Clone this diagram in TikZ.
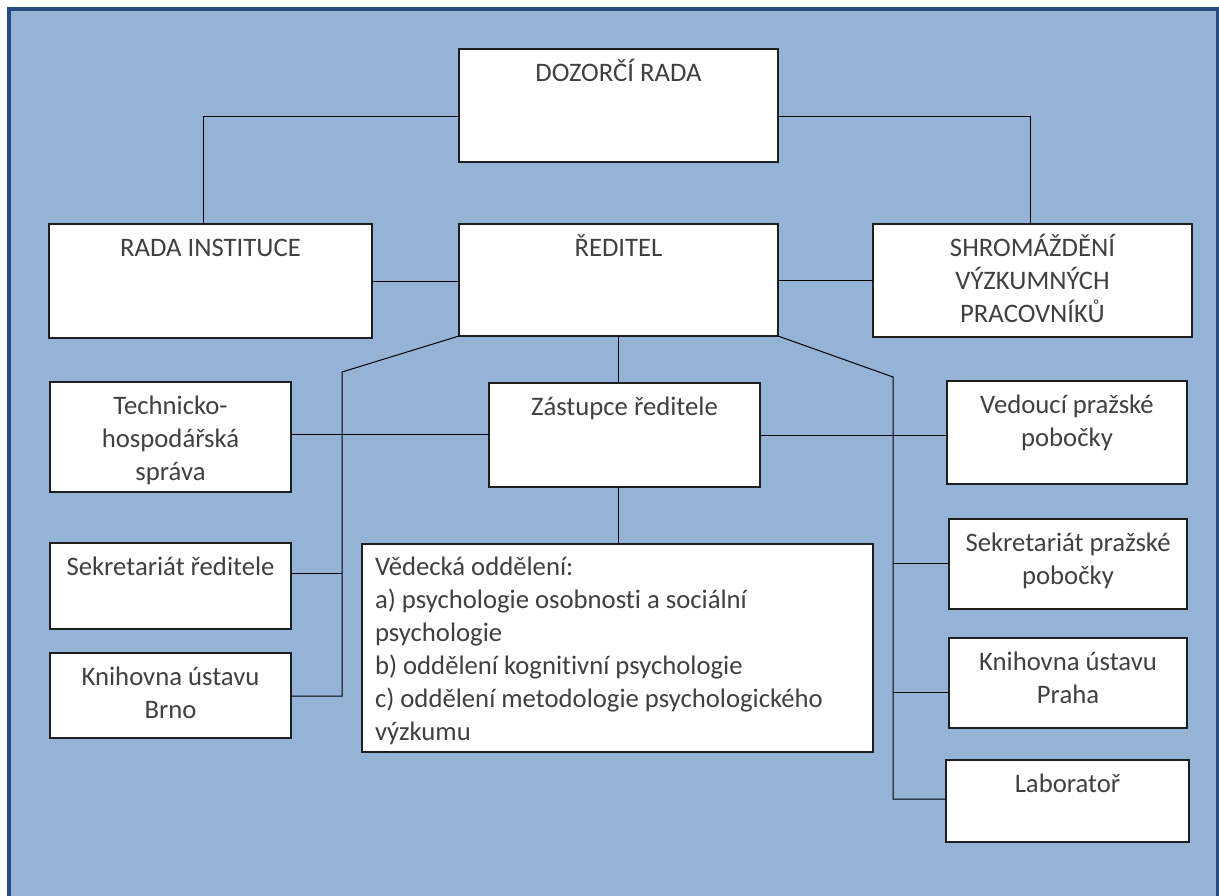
\documentclass[tikz,border=0pt]{standalone}
\usepackage{fontspec}
\setmainfont{Carlito}[Ligatures=NoCommon]
\usetikzlibrary{fit,calc}
\definecolor{bgblue}{HTML}{95B3D7}
\definecolor{frameblue}{HTML}{254C80}
\definecolor{txtgray}{HTML}{404040}
\definecolor{boxline}{HTML}{1E1E1E}
\tikzset{
  boxst/.style={draw=boxline, line width=1.3pt, fill=white, inner sep=0pt, outer sep=0pt},
  lbl/.style={inner sep=0pt, outer sep=0pt, text=txtgray, font=\fontsize{26.7}{33}\selectfont},
  conn/.style={draw=black, line width=1pt}
}
\newcommand\orgbox[5]{\node[boxst, fit={(#2,#3) (#4,#5)}] (#1) {};}
\newcommand\orgtext[3]{\node[lbl, anchor=base] (t#1) at ([yshift=-32pt]#1.north) {\parbox[t]{#2pt}{\centering #3}};}
\begin{document}
\begin{tikzpicture}[x=1pt,y=-1pt]
\useasboundingbox (0,0) rectangle (1219,895);
\fill[white] (0,0) rectangle (1219,895);
\begin{scope}
\clip (0,0) rectangle (1219,895);
\draw[frameblue, line width=4.5pt, fill=bgblue] (9.2,9.2) rectangle (1217.8,905);
\end{scope}

% boxes
\orgbox{dr}{459}{49}{778}{162}
\orgbox{ri}{49}{224}{372}{338}
\orgbox{red}{459}{224}{778}{336}
\orgbox{shr}{873}{224}{1192}{337}
\orgbox{tech}{50}{382}{291}{492}
\orgbox{sekr}{50}{543}{291}{629}
\orgbox{knb}{50}{653}{291}{738}
\orgbox{zas}{489}{383}{760}{487}
\orgbox{ved}{362}{544}{873}{752}
\orgbox{vpp}{947}{381}{1187}{484}
\orgbox{spp}{949}{519}{1187}{609}
\orgbox{knp}{949}{638}{1187}{728}
\orgbox{lab}{946}{760}{1189}{842}

% texts
\orgtext{dr}{319}{DOZORČÍ RADA}
\orgtext{ri}{323}{RADA INSTITUCE}
\orgtext{red}{319}{ŘEDITEL}
\orgtext{shr}{319}{SHROMÁŽDĚNÍ\\VÝZKUMNÝCH\\PRACOVNÍKŮ}
\orgtext{tech}{241}{Technicko-\\hospodářská\\správa}
\orgtext{sekr}{241}{Sekretariát ředitele}
\orgtext{knb}{241}{Knihovna ústavu\\Brno}
\orgtext{zas}{271}{Zástupce ředitele}
\orgtext{vpp}{240}{Vedoucí pražské\\pobočky}
\orgtext{spp}{238}{Sekretariát pražské\\pobočky}
\orgtext{knp}{238}{Knihovna ústavu\\Praha}
\orgtext{lab}{243}{Laboratoř}
\node[lbl, anchor=base west] (tved) at ([xshift=13pt,yshift=-31pt]ved.north west)
  {\parbox[t]{495pt}{\raggedright Vědecká oddělení:\\a) psychologie osobnosti a sociální\\psychologie\\b) oddělení kognitivní psychologie\\c) oddělení metodologie psychologického\\výzkumu}};

% junction coordinates
\coordinate (jl) at (203,116);
\coordinate (jr) at (1030,116);
\coordinate (cl) at (342,372);
\coordinate (cr) at (893,377);
\coordinate (ht) at (0,434);
\coordinate (hs) at (0,573);
\coordinate (hk) at (0,696);
\coordinate (hv) at (0,435);
\coordinate (hp) at (0,563);
\coordinate (hq) at (0,692);
\coordinate (hl) at (0,799);

\draw[conn] (jl -| dr.west) -- (jl) -- (jl |- ri.north);
\draw[conn] (jr -| dr.east) -- (jr) -- (jr |- shr.north);
\draw[conn] (ri.east) -- (ri.east -| red.west);
\draw[conn] (red.east) -- (red.east -| shr.west);
\draw[conn] (red.south) -- (red.south |- zas.north);
\draw[conn] (red.south |- zas.south) -- (red.south |- ved.north);
% left branch
\draw[conn] (red.south west) -- (cl) -- (cl |- hk) -- (hk -| knb.east);
\draw[conn] (cl |- hs) -- (hs -| sekr.east);
\draw[conn] (ht -| tech.east) -- (ht -| zas.west);
% right branch
\draw[conn] (red.south east) -- (cr) -- (cr |- hl) -- (hl -| lab.west);
\draw[conn] (cr |- hp) -- (hp -| spp.west);
\draw[conn] (cr |- hq) -- (hq -| knp.west);
\draw[conn] (hv -| zas.east) -- (hv -| vpp.west);
\end{tikzpicture}
\end{document}
